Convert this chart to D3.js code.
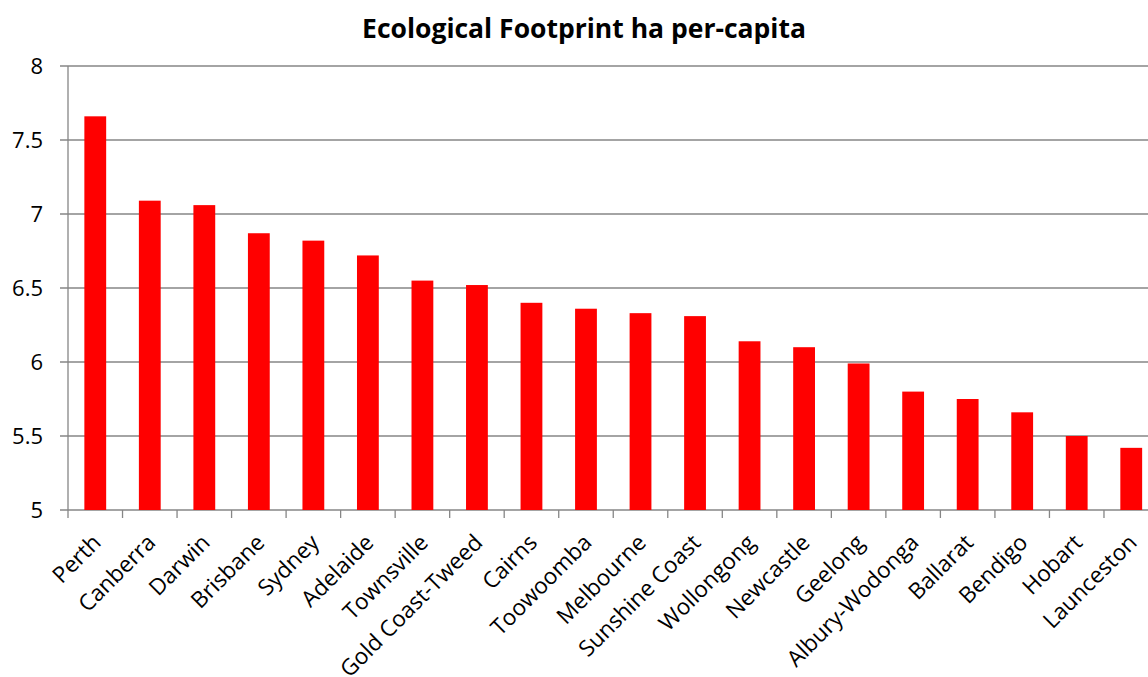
<!DOCTYPE html>
<html>
<head>
<meta charset="utf-8">
<script src="https://cdn.jsdelivr.net/npm/d3@7"></script>
<style>
	body { margin: 0; background: #fff; overflow: hidden; }
	svg { display: block; font-family: "Open Sans", sans-serif; }
</style>
</head>
<body>
<svg id="chart" width="1148" height="677"></svg>
<script>
const cities = ['Perth', 'Canberra', 'Darwin', 'Brisbane', 'Sydney', 'Adelaide', 'Townsville',
	'Gold Coast-Tweed', 'Cairns', 'Toowoomba', 'Melbourne', 'Sunshine Coast', 'Wollongong',
	'Newcastle', 'Geelong', 'Albury-Wodonga', 'Ballarat', 'Bendigo', 'Hobart', 'Launceston'];
const footprint = [7.66, 7.09, 7.06, 6.87, 6.82, 6.72, 6.55, 6.52, 6.40, 6.36, 6.33, 6.31,
	6.14, 6.10, 5.99, 5.80, 5.75, 5.66, 5.50, 5.42];
const yTicks = [5, 5.5, 6, 6.5, 7, 7.5, 8];
const title = 'Ecological Footprint ha per-capita';

const svg = d3.select('#chart');
const plotLeft = 68, plotRight = 1158.5, plotTop = 66, plotBottom = 510;
const axisColor = '#868686';

let x = d3.scaleBand()
	.domain(cities)
	.range([plotLeft, plotRight])
	.paddingInner(0.6)
	.paddingOuter(0.3);

let y = d3.scaleLinear()
	.domain([5, 8])
	.range([plotBottom, plotTop]);

// gridlines
svg.append('g')
	.selectAll('line')
	.data(yTicks)
	.enter()
	.append('line')
	.attr('x1', plotLeft - 8)
	.attr('x2', 1148)
	.attr('y1', (d) => y(d))
	.attr('y2', (d) => y(d))
	.attr('stroke', axisColor)
	.attr('stroke-width', 1.3);

// y labels
svg.append('g')
	.selectAll('text')
	.data(yTicks)
	.enter()
	.append('text')
	.attr('x', 43)
	.attr('y', (d) => y(d))
	.attr('dy', '0.36em')
	.attr('text-anchor', 'end')
	.attr('font-size', 22)
	.attr('fill', '#000')
	.text((d) => d);

// bars
svg.append('g')
	.selectAll('rect')
	.data(cities)
	.enter()
	.append('rect')
	.attr('x', (d) => x(d))
	.attr('width', x.bandwidth())
	.attr('y', (d, i) => y(footprint[i]))
	.attr('height', (d, i) => y(5) - y(footprint[i]))
	.attr('fill', '#ff0000');

// y axis line
svg.append('line')
	.attr('x1', plotLeft).attr('x2', plotLeft)
	.attr('y1', plotTop).attr('y2', plotBottom)
	.attr('stroke', axisColor)
	.attr('stroke-width', 1.3);

// x tick marks between categories
const step = x.step();
svg.append('g')
	.selectAll('line')
	.data(d3.range(cities.length + 1))
	.enter()
	.append('line')
	.attr('x1', (i) => plotLeft + i * step)
	.attr('x2', (i) => plotLeft + i * step)
	.attr('y1', plotBottom)
	.attr('y2', plotBottom + 8)
	.attr('stroke', axisColor)
	.attr('stroke-width', 1.3);

// x labels
svg.append('g')
	.selectAll('text')
	.data(cities)
	.enter()
	.append('text')
	.attr('transform', (d) => 'translate(' + (x(d) + x.bandwidth() / 2 + 7) + ',' + (plotBottom + 34) + ') rotate(-45)')
	.attr('text-anchor', 'end')
	.attr('font-size', 22.5)
	.attr('fill', '#000')
	.text((d) => d);

svg.append('text')
	.attr('x', 584)
	.attr('y', 38)
	.attr('text-anchor', 'middle')
	.attr('font-size', 26.5)
	.attr('font-weight', 'bold')
	.text(title);
</script>
</body>
</html>
